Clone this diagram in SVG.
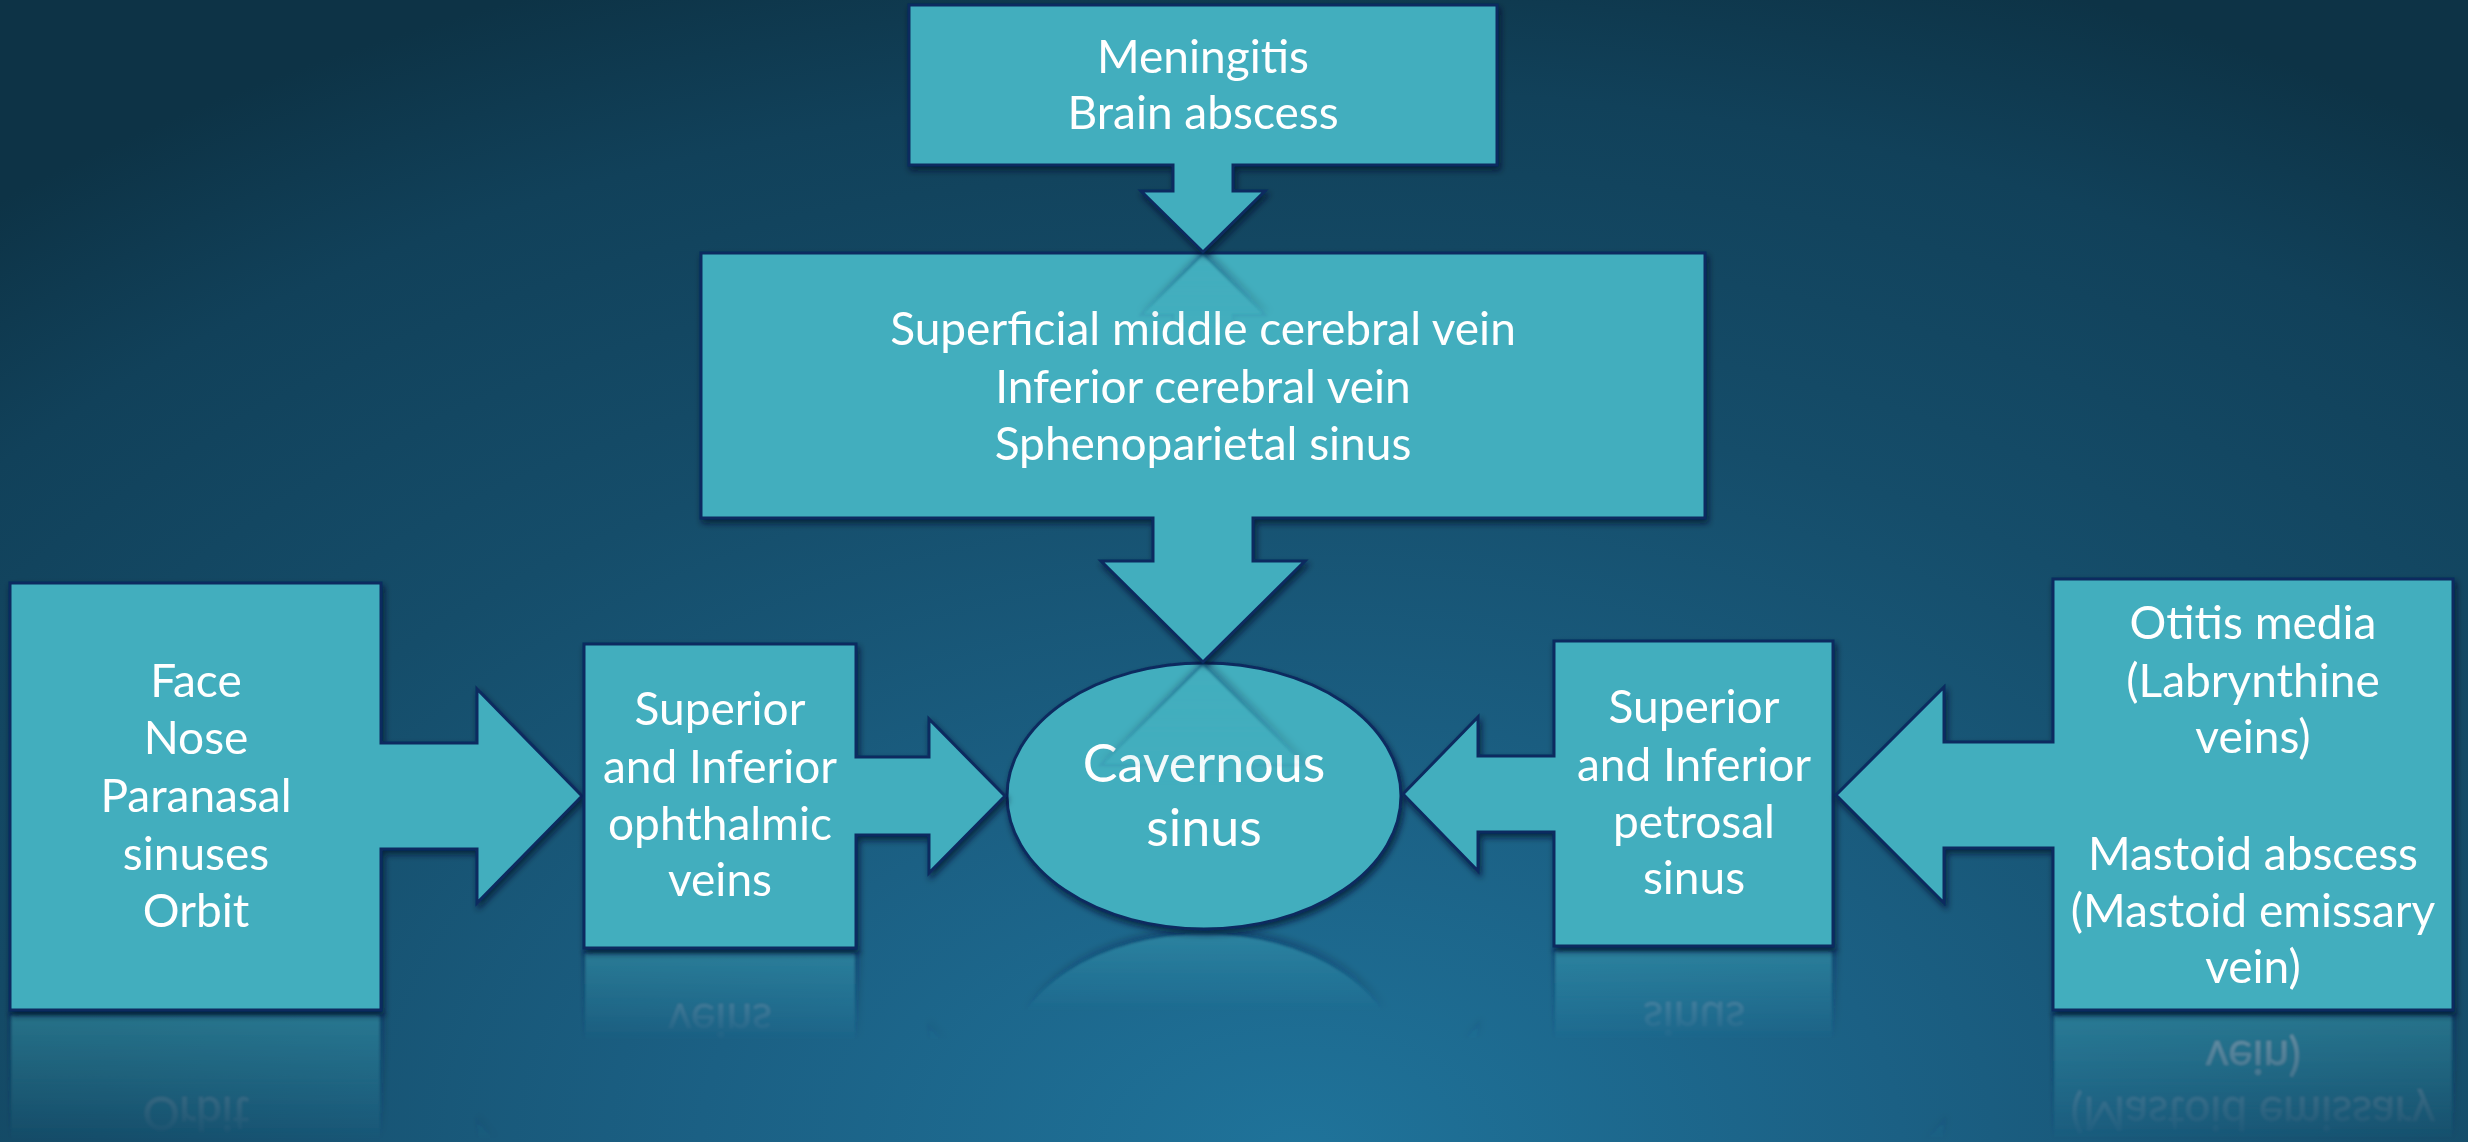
<svg xmlns="http://www.w3.org/2000/svg" xmlns:xlink="http://www.w3.org/1999/xlink" width="2468" height="1142" viewBox="0 0 2468 1142">
<defs>
<style>
.shape{fill:#42aebe;stroke:#0b2b5e;stroke-width:3;stroke-linejoin:miter}
.t{fill:#ffffff;font-family:Lato,"Open Sans","Liberation Sans",sans-serif;font-size:46px;text-anchor:middle}
.big{font-size:52px}
</style>
<radialGradient id="bg" gradientUnits="userSpaceOnUse" cx="1300" cy="1150" r="1250" gradientTransform="translate(1300 1150) scale(1.6 1) translate(-1300 -1150)">
<stop offset="0" stop-color="#1f739a"/>
<stop offset="0.3" stop-color="#1b6084"/>
<stop offset="0.6" stop-color="#154d6a"/>
<stop offset="0.85" stop-color="#11415a"/>
<stop offset="1" stop-color="#0d3346"/>
</radialGradient>
<linearGradient id="fade" x1="0" y1="0" x2="0" y2="1">
<stop offset="0" stop-color="#fff" stop-opacity="0.4"/>
<stop offset="1" stop-color="#fff" stop-opacity="0"/>
</linearGradient>
<filter id="sh" x="-10%" y="-10%" width="120%" height="130%">
<feDropShadow dx="2" dy="4" stdDeviation="3" flood-color="#04182a" flood-opacity="0.7"/>
</filter>
<filter id="soft"><feGaussianBlur stdDeviation="1"/></filter>
<mask id="m-men" maskUnits="userSpaceOnUse" x="0" y="253" width="2468" height="80"><rect x="0" y="253" width="2468" height="74" fill="url(#fade)"/></mask>
<mask id="m-mid" maskUnits="userSpaceOnUse" x="0" y="663" width="2468" height="130"><rect x="0" y="663" width="2468" height="123" fill="url(#fade)"/></mask>
<mask id="m-left" maskUnits="userSpaceOnUse" x="0" y="1012" width="2468" height="130"><rect x="0" y="1012" width="2468" height="128" fill="url(#fade)"/></mask>
<mask id="m-oph" maskUnits="userSpaceOnUse" x="0" y="950" width="2468" height="100"><rect x="0" y="950" width="2468" height="91" fill="url(#fade)"/></mask>
<mask id="m-cav" maskUnits="userSpaceOnUse" x="0" y="931" width="2468" height="90"><rect x="0" y="931" width="2468" height="80" fill="url(#fade)"/></mask>
<mask id="m-pet" maskUnits="userSpaceOnUse" x="0" y="948" width="2468" height="100"><rect x="0" y="948" width="2468" height="92" fill="url(#fade)"/></mask>
<mask id="m-right" maskUnits="userSpaceOnUse" x="0" y="1012" width="2468" height="130"><rect x="0" y="1012" width="2468" height="129" fill="url(#fade)"/></mask>
</defs>

<rect x="0" y="0" width="2468" height="1142" fill="url(#bg)"/>

<g id="reflections-low" filter="url(#soft)">
<g mask="url(#m-left)"><use xlink:href="#node-face" transform="matrix(1 0 0 -1 0 2024)"/></g>
<g mask="url(#m-oph)"><use xlink:href="#node-ophthalmic" transform="matrix(1 0 0 -1 0 1900)"/></g>
<g mask="url(#m-cav)"><use xlink:href="#node-cavernous" transform="matrix(1 0 0 -1 0 1862)"/></g>
<g mask="url(#m-pet)"><use xlink:href="#node-petrosal" transform="matrix(1 0 0 -1 0 1896)"/></g>
<g mask="url(#m-right)"><use xlink:href="#node-otitis" transform="matrix(1 0 0 -1 0 2024)"/></g>
</g>

<g id="node-cavernous" filter="url(#sh)">
<ellipse class="shape" cx="1204" cy="796" rx="197" ry="133"/>
<text class="t big" x="1204" y="782">Cavernous</text>
<text class="t big" x="1204" y="846">sinus</text>
</g>

<g id="node-face" filter="url(#sh)">
<path class="shape" d="M10,583 H381 V743 H477 V689 L582,796 L477,903 V849 H381 V1010 H10 Z"/>
<text class="t" x="196" y="697">Face</text>
<text class="t" x="196" y="754">Nose</text>
<text class="t" x="196" y="812">Paranasal</text>
<text class="t" x="196" y="870">sinuses</text>
<text class="t" x="196" y="927">Orbit</text>
</g>

<g id="node-ophthalmic" filter="url(#sh)">
<path class="shape" d="M584,644 H856 V757 H929 V719 L1005,796 L929,873 V835 H856 V948 H584 Z"/>
<text class="t" x="720" y="725">Superior</text>
<text class="t" x="720" y="783">and Inferior</text>
<text class="t" x="720" y="840">ophthalmic</text>
<text class="t" x="720" y="896">veins</text>
</g>

<g id="node-petrosal" filter="url(#sh)">
<path class="shape" d="M1554,641 H1833 V946 H1554 V832 H1478 V871 L1403,794 L1478,717 V756 H1554 Z"/>
<text class="t" x="1694" y="723">Superior</text>
<text class="t" x="1694" y="781">and Inferior</text>
<text class="t" x="1694" y="838">petrosal</text>
<text class="t" x="1694" y="894">sinus</text>
</g>

<g id="node-otitis" filter="url(#sh)">
<path class="shape" d="M2053,579 H2453 V1010 H2053 V848 H1944 V903 L1836,795 L1944,687 V742 H2053 Z"/>
<text class="t" x="2253" y="639">Otitis media</text>
<text class="t" x="2253" y="697">(Labrynthine</text>
<text class="t" x="2253" y="753">veins)</text>
<text class="t" x="2253" y="870">Mastoid abscess</text>
<text class="t" x="2253" y="927">(Mastoid emissary</text>
<text class="t" x="2253" y="983">vein)</text>
</g>

<g id="node-cerebral" filter="url(#sh)">
<path class="shape" d="M701,253 H1705 V518 H1253 V561 H1305 L1203,662 L1101,561 H1153 V518 H701 Z"/>
<text class="t" x="1203" y="345">Superficial middle cerebral vein</text>
<text class="t" x="1203" y="403">Inferior cerebral vein</text>
<text class="t" x="1203" y="460">Sphenoparietal sinus</text>
</g>
<g id="reflection-cerebral" filter="url(#soft)">
<g mask="url(#m-mid)"><use xlink:href="#node-cerebral" transform="matrix(1 0 0 -1 0 1326)"/></g>
</g>

<g id="node-meningitis" filter="url(#sh)">
<path class="shape" d="M909,5 H1497 V165 H1233 V191 H1265 L1203,252 L1141,191 H1173 V165 H909 Z"/>
<text class="t" x="1203" y="73">Meningitis</text>
<text class="t" x="1203" y="129">Brain abscess</text>
</g>
<g id="reflection-meningitis" filter="url(#soft)">
<g mask="url(#m-men)"><use xlink:href="#node-meningitis" transform="matrix(1 0 0 -1 0 506)"/></g>
</g>

<g id="connectors"></g>
</svg>
